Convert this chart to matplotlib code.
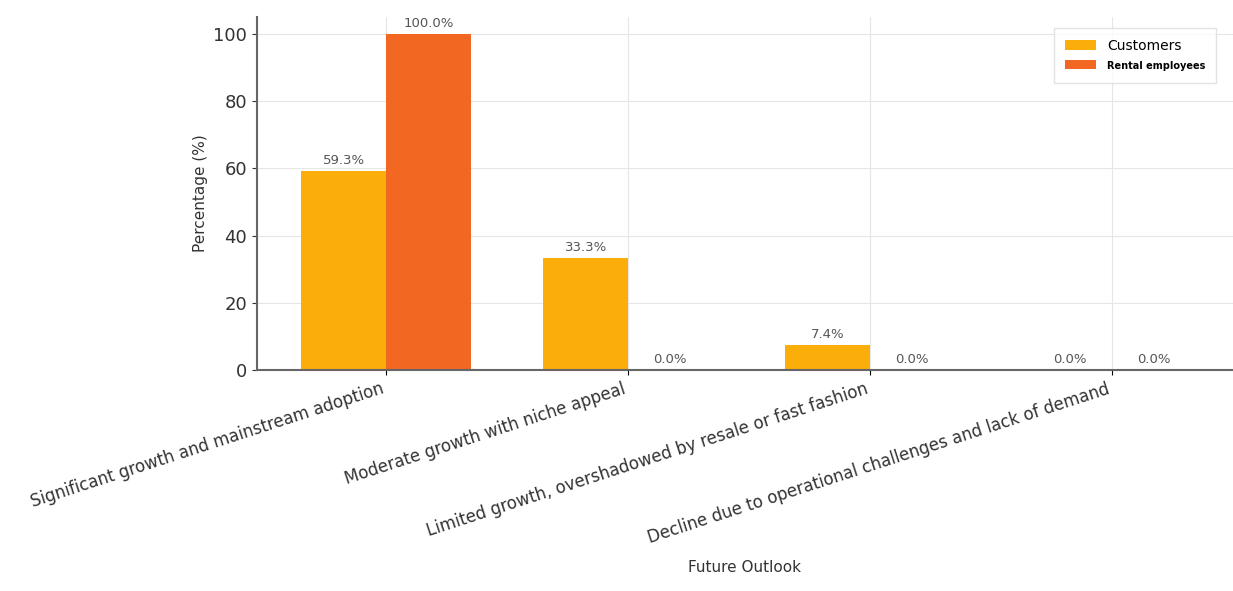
import numpy as np
import matplotlib.pyplot as plt

categories = [
    "Significant growth and mainstream adoption",
    "Moderate growth with niche appeal",
    "Limited growth, overshadowed by resale or fast fashion",
    "Decline due to operational challenges and lack of demand",
]
customers = [59.3, 33.3, 7.4, 0.0]
rental_employees = [100.0, 0.0, 0.0, 0.0]

x = np.arange(len(categories))
width = 0.35

fig = plt.figure(figsize=(12.33, 5.91), dpi=100)
ax = fig.add_axes([0.2084, 0.374, 0.7916, 0.597])

bars1 = ax.bar(x - width / 2, customers, width, color='#FBAE0A', label='Customers')
bars2 = ax.bar(x + width / 2, rental_employees, width, color='#F26722', label='Rental employees')

# value labels on top of each bar
for bars in (bars1, bars2):
    for bar in bars:
        h = bar.get_height()
        ax.annotate(f'{h:.1f}%', (bar.get_x() + bar.get_width() / 2, h),
                    xytext=(0, 3), textcoords='offset points',
                    ha='center', va='bottom', fontsize=9.5, color='#555555')

ax.set_xlim(-0.533, 3.5)
ax.set_ylim(0, 105)
ax.set_xticks(x)
ax.set_xticklabels(categories, rotation=18, ha='right', fontsize=12, color='#333333')
ax.tick_params(axis='y', labelsize=13, colors='#333333')
ax.set_yticks([0, 20, 40, 60, 80, 100])
ax.set_ylabel('Percentage (%)', fontsize=11, color='#333333', labelpad=4)
ax.set_xlabel('Future Outlook', fontsize=11, color='#333333', labelpad=10)

ax.grid(True, color='#e6e6e6', linewidth=0.8)
ax.set_axisbelow(True)
for s in ('top', 'right'):
    ax.spines[s].set_visible(False)
for s in ('left', 'bottom'):
    ax.spines[s].set_color('#666666')
    ax.spines[s].set_linewidth(1.5)

leg = ax.legend(loc='upper right', fontsize=10, frameon=True, fancybox=False,
                borderpad=0.8, handlelength=2.2, bbox_to_anchor=(0.99, 0.99))
leg.get_frame().set_edgecolor('#dddddd')
leg.get_texts()[1].set_fontsize(7)
leg.get_texts()[1].set_fontweight('bold')

plt.savefig('out.png')
